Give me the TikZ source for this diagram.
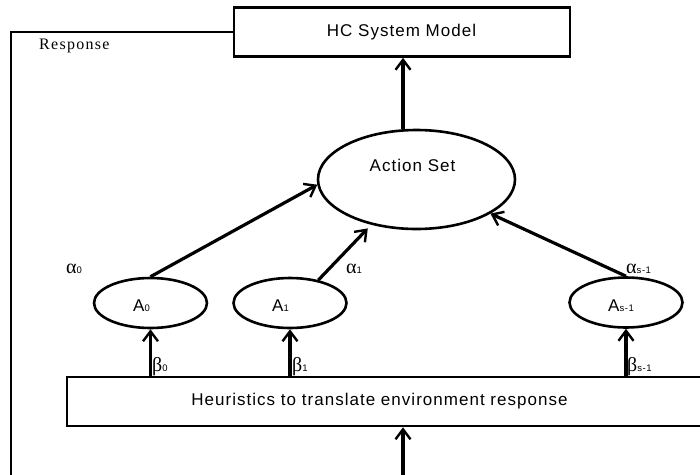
\documentclass[tikz,border=0pt]{standalone}
\usepackage{fontspec}
\usetikzlibrary{arrows.meta,shapes.geometric,calc}
\newfontfamily\lsans{Liberation Sans}[LetterSpace=6]
\newfontfamily\lserif{Liberation Serif}[LetterSpace=8]
\newfontfamily\lgreek{Liberation Serif}
\newcommand{\subtx}[1]{{\fontsize{9.5}{11}\selectfont\lsans #1}}
\newcommand{\bigA}{{\fontsize{17}{20}\selectfont\lsans A}}
\newcommand{\gr}[1]{{\fontsize{20}{23}\selectfont\lgreek #1}}
\begin{document}
\begin{tikzpicture}[x=1pt,y=-1pt,
  box/.style={draw,line width=2.6pt,rectangle,inner sep=0pt},
  oval/.style={draw,line width=2.6pt,ellipse,inner sep=0pt},
  arr/.style={line width=3.2pt,-{Straight Barb[length=10pt,width=15pt,line width=2.4pt]}},
  wire/.style={line width=2.6pt},
  lbl/.style={inner sep=0pt,font={\lsans\fontsize{17}{20}\selectfont}},
  glbl/.style={inner sep=0pt,anchor=base west}]
\useasboundingbox (0,0) rectangle (700,474);
\clip (0,0) rectangle (700,474);

% top model box
\node[box,minimum width=336pt,minimum height=49pt] (HC) at (402,32) {};
\node[lbl] (HCt) at (401.5,32) {HC System Model};

% action set
\node[oval,minimum width=197pt,minimum height=99pt] (AS) at (416.5,179.5) {};
\node[lbl,anchor=base] (ASt) at (412.5,171) {Action Set};

% actions
\node[oval,minimum width=113pt,minimum height=50pt] (A0) at (150.5,303) {};
\node[oval,minimum width=113pt,minimum height=50pt] (A1) at (290,303) {};
\node[oval,minimum width=113pt,minimum height=50pt] (As) at (626,302.5) {};
\node[glbl] (A0t) at (133,311.7) {\bigA\subtx{0}};
\node[glbl] (A1t) at (272,311.7) {\bigA\subtx{1}};
\node[glbl] (Ast) at (608,311.7) {\bigA\subtx{s-1}};

% alpha labels
\node[glbl] (al0) at (66,273) {\gr{α}\subtx{0}};
\node[glbl] (al1) at (346,273) {\gr{α}\subtx{1}};
\node[glbl] (als) at (626,273) {\gr{α}\subtx{s-1}};

% beta labels
\node[glbl] (be0) at (152,371) {\gr{β}\subtx{0}};
\node[glbl] (be1) at (292,371) {\gr{β}\subtx{1}};
\node[glbl] (bes) at (627,371) {\gr{β}\subtx{s-1}};

% heuristics box
\node[box,fill=white,minimum width=643pt,minimum height=49pt] (H) at (388.5,401.5) {};
\node[lbl,anchor=base] (Ht) at (379.5,405.7) {Heuristics to translate environment response};

% response feedback
\node[inner sep=0pt,anchor=base west,font={\lserif\fontsize{16}{19}\selectfont}] (resp) at (39,49.5) {Response};
\coordinate (fbT) at (11,32);
\coordinate (fbB) at (11,480);
\coordinate (bot) at (403,480);
\draw[wire] (HC.west) -- (fbT) -- (fbB);

% arrows
\draw[arr] (AS.105) -- (AS.105 |- HC.south);
\draw[arr] (A0.north) -- (AS.183);
\draw[arr,shorten >=5pt] (A1.39) -- (AS.225.6);
\draw[arr] (As.north) -- (AS);
\draw[arr] (A0.south |- H.north) -- (A0.south);
\draw[arr] (A1.south |- H.north) -- (A1.south);
\draw[arr] (As.south |- H.north) -- (As.south);
\draw[arr] (bot) -- (bot |- H.south);
\end{tikzpicture}
\end{document}
